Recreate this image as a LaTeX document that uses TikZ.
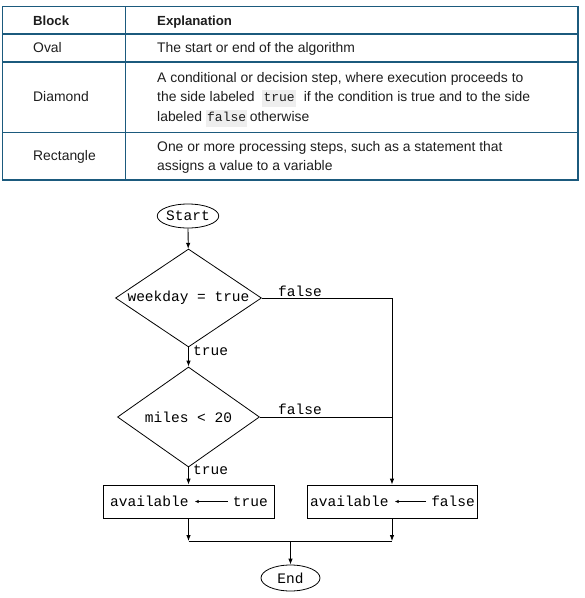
\documentclass[tikz,border=0pt]{standalone}
\usepackage{fontspec}
\setmainfont{Liberation Sans}
\setmonofont{Liberation Mono}
\usetikzlibrary{shapes.geometric,arrows.meta}
\definecolor{tblc}{RGB}{27,90,125}
\definecolor{codebg}{RGB}{238,238,238}
\definecolor{txt}{RGB}{30,30,30}
\newcommand{\inlcode}[1]{{\setlength{\fboxsep}{1.3pt}\colorbox{codebg}{\fontsize{13pt}{14pt}\ttfamily\strut #1}}}
\begin{document}
\begin{tikzpicture}[x=1pt,y=-1pt,
  cell/.style={anchor=base west,inner sep=0pt,text=txt,font=\fontsize{13.9pt}{16pt}\selectfont},
  head/.style={cell,font=\fontsize{13.2pt}{16pt}\selectfont\bfseries},
  flow/.style={draw,line width=0.8pt,font=\fontsize{14.5pt}{16pt}\ttfamily,inner sep=0pt},
  oval/.style={flow,ellipse,minimum width=61pt,minimum height=24pt},
  decision/.style={flow,diamond,aspect=1.49},
  procbox/.style={flow,rectangle,minimum height=33pt},
  boxtxt/.style={inner sep=0pt,font=\fontsize{14.5pt}{16pt}\ttfamily},
  lbl/.style={inner sep=0pt,font=\fontsize{14.5pt}{16pt}\ttfamily},
  conn/.style={line width=0.8pt},
  arr/.style={conn,-{Latex[length=6pt,width=4.5pt]}},
  smallarr/.style={line width=0.9pt,-{Latex[length=4pt,width=3.5pt]}}
]
\useasboundingbox (0,0) rectangle (585,598);
% ---------- table ----------
\draw[tblc,line width=1.1pt] (2.5,6.5) rectangle (578,180);
\draw[tblc,line width=1.1pt] (125.5,6.5) -- (125.5,180);
\draw[tblc,line width=1.1pt] (2.5,34) -- (578,34);
\draw[tblc,line width=1.1pt] (2.5,62) -- (578,62);
\draw[tblc,line width=1.1pt] (2.5,132.5) -- (578,132.5);
\node[head] (hblock) at (33,25) {Block};
\node[head] (hexpl) at (157,25) {Explanation};
\node[cell] (oval) at (33,52.5) {Oval};
\node[cell] (ovalx) at (157,52.5) {The start or end of the algorithm};
\node[cell] (diam) at (33,101.5) {Diamond};
\node[cell] (diamx1) at (157,82) {A conditional or decision step, where execution proceeds to};
\node[cell] (diamx2) at (157,101.5) {the side labeled\ \ \inlcode{true}\ \ if the condition is true and to the side};
\node[cell] (diamx3) at (157,121) {labeled \inlcode{false}\,otherwise};
\node[cell] (rect) at (33,160.5) {Rectangle};
\node[cell] (rectx1) at (157,151) {One or more processing steps, such as a statement that};
\node[cell] (rectx2) at (157,170.5) {assigns a value to a variable};
% ---------- flowchart ----------
\node[oval] (start) at (188,216) {Start};
\node[decision,minimum width=146pt,minimum height=98pt] (d1) at (188.5,298) {weekday = true};
\node[decision,minimum width=142pt,minimum height=100pt] (d2) at (188.5,417) {miles < 20};
\node[procbox,minimum width=171pt] (b1) at (188.5,501.5) {};
\node[procbox,minimum width=170pt] (b2) at (392,501.5) {};
\node[oval,minimum width=59pt,minimum height=26pt] (end) at (290.5,578) {End};
% box contents
\node[boxtxt,anchor=west] (a1) at (110,501.5) {available};
\node[boxtxt,anchor=east] (t1) at (268,501.5) {true};
\node[boxtxt,anchor=west] (a2) at (310,501.5) {available};
\node[boxtxt,anchor=east] (t2) at (475,501.5) {false};
\draw[smallarr] ([xshift=-5pt]t1.west) -- ([xshift=6pt]a1.east);
\draw[smallarr] ([xshift=-5pt]t2.west) -- ([xshift=6pt]a2.east);
% connectors
\draw[arr] (start) -- (d1);
\draw[arr] (d1) -- (d2);
\draw[arr] (d2) -- (b1);
\draw[arr] (d1.east) -| (b2.north);
\coordinate (jn) at (d2.east -| b2.north);
\draw[conn] (d2.east) -- (jn);
\coordinate (m) at (290.5,541);
\draw[arr] (b1.south) -- (b1.south |- m);
\draw[arr] (b2.south) -- (b2.south |- m);
\draw[conn] (b1.south |- m) -- (b2.south |- m);
\draw[arr] (m) -- (end);
% labels
\node[lbl,anchor=west] (f1) at (278,291) {false};
\node[lbl,anchor=west] (f2) at (278,409.5) {false};
\node[lbl,anchor=west] (tr1) at (193,351) {true};
\node[lbl,anchor=west] (tr2) at (193,469.5) {true};
\end{tikzpicture}
\end{document}
